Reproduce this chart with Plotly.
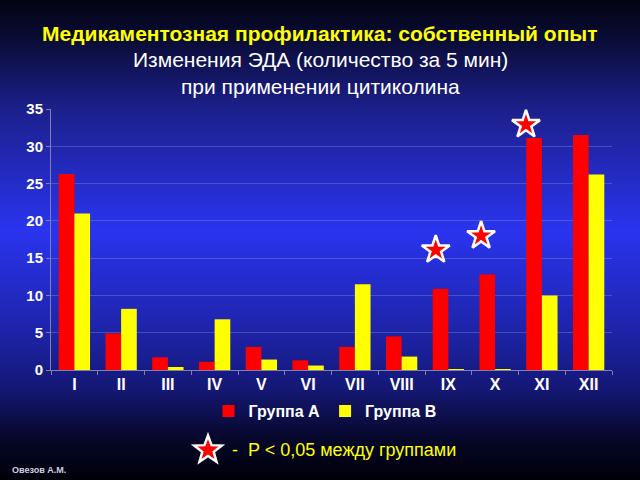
import math
import plotly.graph_objects as go

categories = ["I", "II", "III", "IV", "V", "VI", "VII", "VIII", "IX", "X", "XI", "XII"]
group_a = [26.3, 4.9, 1.7, 1.1, 3.1, 1.3, 3.1, 4.5, 10.9, 12.8, 31.1, 31.5]
group_b = [21.0, 8.2, 0.4, 6.8, 1.4, 0.6, 11.5, 1.8, 0.1, 0.1, 10.0, 26.2]
y_ticks = [0, 5, 10, 15, 20, 25, 30, 35]
# significance stars (category index position, height on value axis)
star_x = [7.73, 8.70, 9.66]
star_y = [16.1, 18.0, 32.9]

FONT = "Liberation Sans, Arial, sans-serif"
W, H = 640, 480
L, R, T, B = 51, 28, 109, 110
pw, ph = W - L - R, H - T - B


def px2x(px):
    return (px - L) / pw


def py2y(py):
    return (H - B - py) / ph


fig = go.Figure()
fig.add_trace(go.Bar(x=categories, y=group_a, name="Группа А",
                     marker=dict(color="#ff0000", line=dict(width=0))))
fig.add_trace(go.Bar(x=categories, y=group_b, name="Группа В",
                     marker=dict(color="#ffff00", line=dict(width=0))))

star_marker = dict(symbol="star", size=21, color="#ff0000",
                   line=dict(color="white", width=2.5))
fig.add_trace(go.Scatter(x=star_x, y=star_y, mode="markers", xaxis="x2", yaxis="y2",
                         marker=star_marker, showlegend=False, hoverinfo="skip",
                         cliponaxis=False))

# vertical gradient background built from thin bands
stops = [(0, (4, 4, 18)), (40, (10, 12, 55)), (110, (28, 32, 140)),
         (230, (42, 52, 238)), (330, (30, 36, 170)), (390, (20, 23, 115)),
         (440, (6, 7, 40)), (480, (0, 0, 10))]


def col_at(py):
    for (p0, c0), (p1, c1) in zip(stops[:-1], stops[1:]):
        if p0 <= py <= p1:
            t = (py - p0) / (p1 - p0)
            return "rgb(%d,%d,%d)" % tuple(round(a + (b - a) * t) for a, b in zip(c0, c1))
    return "rgb(0,0,10)"


shapes = []
step = 4
for py in range(0, H, step):
    shapes.append(dict(type="rect", xref="paper", yref="paper", layer="below",
                       x0=px2x(-5), x1=px2x(W + 5),
                       y0=py2y(py + step + 0.5), y1=py2y(py), line=dict(width=0),
                       fillcolor=col_at(py + step / 2)))

# star used as key for the significance note
cx, cy, ro, ri = 208, 450, 14.5, 6.0
pts = []
for k in range(10):
    r = ro if k % 2 == 0 else ri
    a = -math.pi / 2 + k * math.pi / 5
    pts.append((px2x(cx + r * math.cos(a)), py2y(cy + r * math.sin(a))))
path = "M " + " L ".join("%.5f,%.5f" % p for p in pts) + " Z"
shapes.append(dict(type="path", xref="paper", yref="paper", path=path, layer="above",
                   fillcolor="#ff0000", line=dict(color="white", width=2.5)))

annotations = [
    dict(text="<b>Медикаментозная профилактика: собственный опыт</b>", x=px2x(320), xref="paper",
         y=py2y(33), yref="paper", showarrow=False, xanchor="center", yanchor="middle",
         font=dict(family=FONT, size=21, color="#ffff00")),
    dict(text="Изменения ЭДА (количество за 5 мин)", x=px2x(320), xref="paper",
         y=py2y(60), yref="paper", showarrow=False, xanchor="center", yanchor="middle",
         font=dict(family=FONT, size=21, color="white")),
    dict(text="при применении цитиколина", x=px2x(320), xref="paper",
         y=py2y(87), yref="paper", showarrow=False, xanchor="center", yanchor="middle",
         font=dict(family=FONT, size=21, color="white")),
    dict(text="-  P < 0,05 между группами", x=px2x(230), xref="paper",
         y=py2y(450), yref="paper", showarrow=False, xanchor="left", yanchor="middle",
         font=dict(family=FONT, size=18, color="#ffff00")),
    dict(text="<b>Овезов А.М.</b>", x=px2x(10), xref="paper",
         y=py2y(470), yref="paper", showarrow=False, xanchor="left", yanchor="middle",
         font=dict(family=FONT, size=9, color="#d0d0e0")),
]

fig.update_layout(
    width=W, height=H,
    margin=dict(l=L, r=R, t=T, b=B),
    paper_bgcolor="#000010",
    plot_bgcolor="rgba(0,0,0,0)",
    barmode="group", bargap=0.33, bargroupgap=0,
    shapes=shapes,
    annotations=annotations,
    showlegend=True,
    legend=dict(orientation="h", x=px2x(325), xanchor="center", y=py2y(411), yanchor="middle",
                font=dict(family=FONT, size=16, color="white", weight="bold"),
                bgcolor="rgba(0,0,0,0)", itemwidth=30, traceorder="normal"),
    xaxis=dict(type="category", tickfont=dict(family=FONT, size=16, color="white", weight="bold"),
               showline=True, linecolor="#8080a8", linewidth=1, ticks="outside",
               tickson="boundaries", ticklen=4, tickcolor="#8080a8", showgrid=False,
               zeroline=False),
    yaxis=dict(range=[0, 35], tickvals=y_ticks, showgrid=True, gridcolor="rgba(140,140,190,0.4)",
               gridwidth=1, showline=True, linecolor="#8080a8", linewidth=1, ticks="outside",
               ticklen=4, tickcolor="#8080a8", zeroline=False,
               tickfont=dict(family=FONT, size=15, color="white", weight="bold")),
    xaxis2=dict(overlaying="x", range=[-0.5, 11.5], visible=False, fixedrange=True),
    yaxis2=dict(overlaying="y", range=[0, 35], visible=False, fixedrange=True),
)

fig.write_html("out.html")
